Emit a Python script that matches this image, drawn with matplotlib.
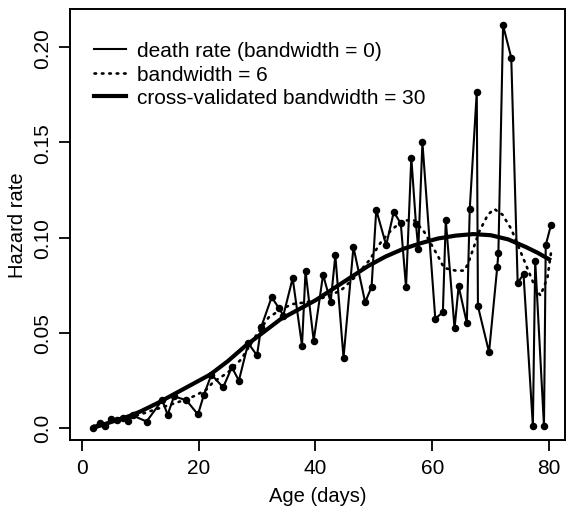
import matplotlib.pyplot as plt
from matplotlib.lines import Line2D

# death rate by age
ages = [1.9, 3.1, 4.0, 5.1, 6.0, 7.1, 8.0, 8.7, 11.1, 13.8, 14.7, 15.8, 17.9, 19.9,
        20.9, 22.2, 24.2, 25.7, 26.9, 28.5, 30.0, 30.7, 32.5, 33.8, 34.5, 36.1,
        37.7, 38.3, 39.7, 41.3, 42.6, 43.4, 44.8, 46.5, 48.5, 49.6, 50.4, 52.1,
        53.4, 54.6, 55.5, 56.4, 57.2, 57.6, 58.3, 60.5, 61.8, 62.3, 63.8, 64.5,
        65.9, 66.4, 67.6, 67.8, 69.7, 71.1, 71.3, 72.1, 73.5, 74.6, 75.6, 77.2,
        77.6, 79.1, 79.4, 80.3]
death_rate = [0.000, 0.0026, 0.001, 0.0045, 0.004, 0.005, 0.0037, 0.0065, 0.0033, 0.0146,
              0.0068, 0.0165, 0.0145, 0.0070, 0.0172, 0.0280, 0.0212, 0.0318, 0.0248,
              0.0445, 0.0380, 0.0528, 0.0686, 0.0627, 0.0590, 0.0786, 0.0432, 0.0823,
              0.0458, 0.0805, 0.0660, 0.0906, 0.0368, 0.0950, 0.0660, 0.0740, 0.1145,
              0.0960, 0.1134, 0.1074, 0.0738, 0.1420, 0.1070, 0.0940, 0.1500, 0.0574,
              0.0607, 0.1090, 0.0523, 0.0744, 0.0551, 0.1150, 0.1765, 0.0639, 0.0397,
              0.0843, 0.0919, 0.2115, 0.1946, 0.0761, 0.0808, 0.0009, 0.0878, 0.0009,
              0.0960, 0.1066]

# smoothed, bandwidth = 6
bw6_age = [2, 5, 8, 10.5, 12, 14, 16, 18, 19.5, 21.3, 22.5, 25, 27.3, 29.5, 32, 34, 36,
           38.5, 41, 44.3, 46.7, 49.2, 51.3, 53, 55, 56.9, 58.6, 61, 62, 64, 65.5, 66.2,
           68, 69.5, 70.6, 72, 73.5, 74.9, 76.3, 77.7, 78.5, 79.7, 80.3]
bw6_rate = [0.001, 0.003, 0.005, 0.0075, 0.009, 0.011, 0.013, 0.015, 0.017, 0.020, 0.024,
            0.029, 0.036, 0.047, 0.058, 0.062, 0.065, 0.066, 0.068, 0.072, 0.079, 0.088,
            0.098, 0.104, 0.109, 0.109, 0.103, 0.090, 0.084, 0.0826, 0.0826, 0.087,
            0.103, 0.112, 0.115, 0.112, 0.1045, 0.094, 0.0835, 0.073, 0.0695, 0.079, 0.092]

# cross-validated bandwidth = 30
bw30_age = [2, 4, 6, 8, 10, 13, 16, 19, 22, 25, 28, 31, 34, 37, 40, 43, 46, 49, 52, 55,
            58, 61, 64, 67, 70, 73, 76, 78, 80.3]
bw30_rate = [0.000, 0.002, 0.004, 0.006, 0.0085, 0.013, 0.018, 0.023, 0.028, 0.035,
             0.043, 0.050, 0.057, 0.062, 0.067, 0.073, 0.079, 0.085, 0.090, 0.094,
             0.097, 0.0995, 0.101, 0.1018, 0.1012, 0.099, 0.095, 0.092, 0.088]

xticks = [0, 20, 40, 60, 80]
yticks = [0.0, 0.05, 0.10, 0.15, 0.20]
ytick_labels = ["0.0", "0.05", "0.10", "0.15", "0.20"]

plt.rcParams['font.family'] = ['Liberation Sans', 'DejaVu Sans']

fig = plt.figure(figsize=(5.69, 5.10), dpi=100)
ax = fig.add_axes([0.123, 0.135, 0.870, 0.845])

ax.plot(ages, death_rate, color='black', lw=1.5, marker='o', ms=4.4)
ax.plot(bw6_age, bw6_rate, color='black', lw=1.9, linestyle=(0, (0.6, 2.2)),
        dash_capstyle='round')
ax.plot(bw30_age, bw30_rate, color='black', lw=3.0, solid_capstyle='butt')

ax.set_xlim(-2.0, 82.7)
ax.set_ylim(-0.0065, 0.22)
ax.set_xticks(xticks)
ax.set_xticklabels([str(t) for t in xticks])
ax.set_yticks(yticks)
ax.set_yticklabels(ytick_labels, rotation=90, va='center')
ax.tick_params(direction='out', length=8, width=1.3, labelsize=15, pad=5)
for s in ax.spines.values():
    s.set_linewidth(1.4)

ax.set_xlabel('Age (days)', fontsize=14.5, labelpad=6)
ax.set_ylabel('Hazard rate', fontsize=14.5, labelpad=4)

handles = [Line2D([], [], color='black', lw=1.5),
           Line2D([], [], color='black', lw=1.9, linestyle=(0, (0.6, 2.2)),
                  dash_capstyle='round'),
           Line2D([], [], color='black', lw=3.0)]
labels = ['death rate (bandwidth = 0)', 'bandwidth = 6', 'cross-validated bandwidth = 30']
ax.legend(handles, labels, loc='upper left', bbox_to_anchor=(0.032, 0.945), frameon=False,
          fontsize=15, handlelength=1.55, handletextpad=0.5, labelspacing=0.22,
          borderaxespad=0)

fig.savefig('out.png', dpi=100)
